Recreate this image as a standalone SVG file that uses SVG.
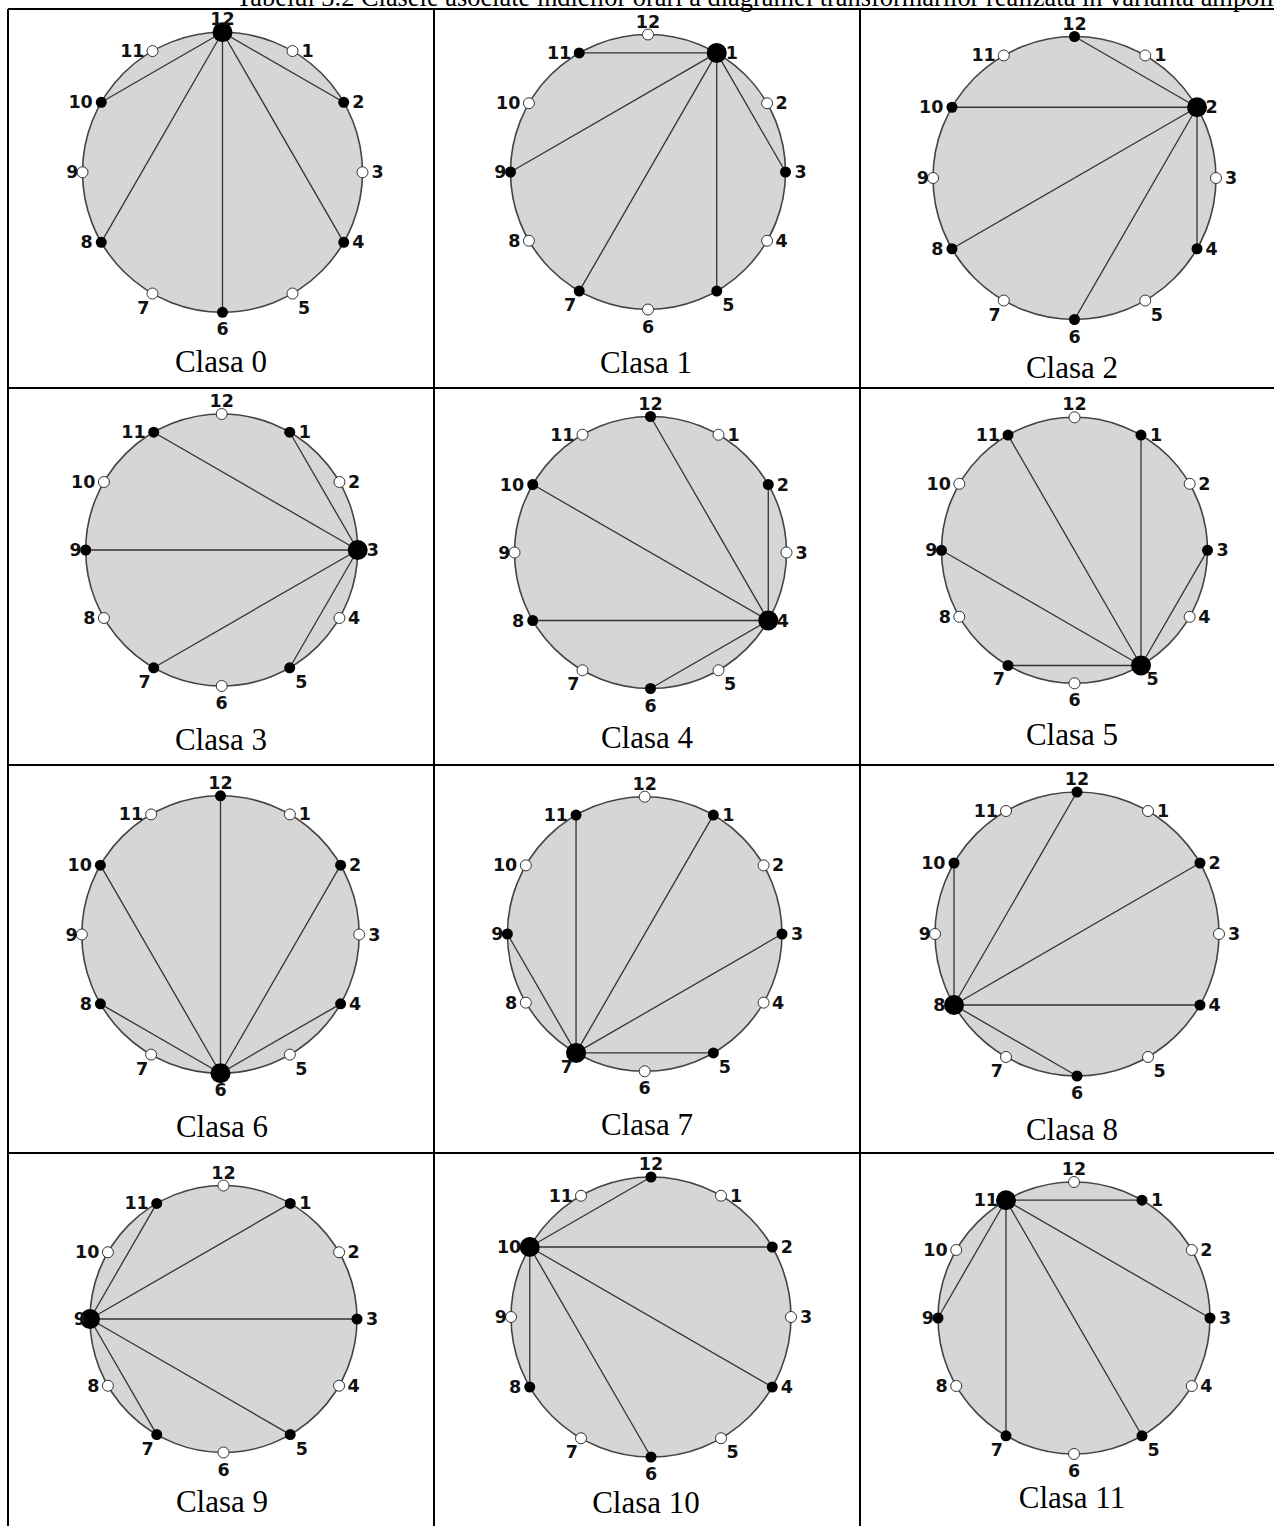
<svg xmlns="http://www.w3.org/2000/svg" width="1274" height="1526" viewBox="0 0 1274 1526">
<style>
.bg{fill:#fff}
.grid{stroke:#000;stroke-width:2;fill:none}
.disc{fill:#d6d6d6;stroke:#444;stroke-width:1.6}
.e line{stroke:#333;stroke-width:1.3}
.b{fill:#000}
.w{fill:#fff;stroke:#333;stroke-width:1}
.h{fill:#000}
text.l{font-family:"DejaVu Sans",Verdana,sans-serif;font-weight:bold;font-size:17.5px;fill:#111}
.p12{text-anchor:middle;transform:translate(0px,-7px)}
.p1{text-anchor:start;transform:translate(9px,6px)}
.p2{text-anchor:start;transform:translate(8.5px,6px)}
.p3{text-anchor:start;transform:translate(9px,6px)}
.p4{text-anchor:start;transform:translate(8.5px,6px)}
.p5{text-anchor:start;transform:translate(5.5px,20px)}
.p6{text-anchor:middle;transform:translate(0px,23px)}
.p7{text-anchor:end;transform:translate(-3px,20px)}
.p8{text-anchor:end;transform:translate(-8.5px,6px)}
.p9{text-anchor:end;transform:translate(-4px,6px)}
.p10{text-anchor:end;transform:translate(-8.5px,6px)}
.p11{text-anchor:end;transform:translate(-8px,6px)}
.cap{font-family:"Liberation Serif","Times New Roman",serif;font-size:31px;text-anchor:middle;fill:#000}
.title{font-family:"Liberation Serif","Times New Roman",serif;font-size:26.4px;fill:#000}
</style>
<rect class="bg" x="0" y="0" width="1274" height="1526"/>
<text class="title" x="236" y="6">Tabelul 3.2 Clasele asociate indicilor orari a diagramei transformarilor realizata in varianta ampolit</text>
<g id="table" class="grid">
<line x1="8" y1="9" x2="1274" y2="9"/>
<line x1="8" y1="388" x2="1274" y2="388"/>
<line x1="8" y1="765" x2="1274" y2="765"/>
<line x1="8" y1="1153" x2="1274" y2="1153"/>
<line x1="8" y1="9" x2="8" y2="1526"/>
<line x1="434" y1="9" x2="434" y2="1526"/>
<line x1="860" y1="9" x2="860" y2="1526"/>
</g>

<g id="clasa0">
<circle class="disc" cx="222.5" cy="172.3" r="140"/>
<g id="clasa0-edges" class="e">
<line x1="222.5" y1="32.3" x2="343.74" y2="102.3"/>
<line x1="222.5" y1="32.3" x2="343.74" y2="242.3"/>
<line x1="222.5" y1="32.3" x2="222.5" y2="312.3"/>
<line x1="222.5" y1="32.3" x2="101.26" y2="242.3"/>
<line x1="222.5" y1="32.3" x2="101.26" y2="102.3"/>
</g>
<g id="c0-n12" transform="translate(222.5,32.3)"><circle class="h" r="10"/><text class="l p12">12</text></g>
<g id="c0-n1" transform="translate(292.5,51.06)"><circle class="w" r="5.5"/><text class="l p1">1</text></g>
<g id="c0-n2" transform="translate(343.74,102.3)"><circle class="b" r="5.5"/><text class="l p2">2</text></g>
<g id="c0-n3" transform="translate(362.5,172.3)"><circle class="w" r="5.5"/><text class="l p3">3</text></g>
<g id="c0-n4" transform="translate(343.74,242.3)"><circle class="b" r="5.5"/><text class="l p4">4</text></g>
<g id="c0-n5" transform="translate(292.5,293.54)"><circle class="w" r="5.5"/><text class="l p5">5</text></g>
<g id="c0-n6" transform="translate(222.5,312.3)"><circle class="b" r="5.5"/><text class="l p6">6</text></g>
<g id="c0-n7" transform="translate(152.5,293.54)"><circle class="w" r="5.5"/><text class="l p7">7</text></g>
<g id="c0-n8" transform="translate(101.26,242.3)"><circle class="b" r="5.5"/><text class="l p8">8</text></g>
<g id="c0-n9" transform="translate(82.5,172.3)"><circle class="w" r="5.5"/><text class="l p9">9</text></g>
<g id="c0-n10" transform="translate(101.26,102.3)"><circle class="b" r="5.5"/><text class="l p10">10</text></g>
<g id="c0-n11" transform="translate(152.5,51.06)"><circle class="w" r="5.5"/><text class="l p11">11</text></g>
<text class="cap" x="221" y="372">Clasa 0</text>
</g>

<g id="clasa1">
<circle class="disc" cx="648" cy="172" r="137.5"/>
<g id="clasa1-edges" class="e">
<line x1="716.75" y1="52.92" x2="579.25" y2="52.92"/>
<line x1="716.75" y1="52.92" x2="510.5" y2="172"/>
<line x1="716.75" y1="52.92" x2="579.25" y2="291.08"/>
<line x1="716.75" y1="52.92" x2="716.75" y2="291.08"/>
<line x1="716.75" y1="52.92" x2="785.5" y2="172"/>
</g>
<g id="c1-n12" transform="translate(648,34.5)"><circle class="w" r="5.5"/><text class="l p12">12</text></g>
<g id="c1-n1" transform="translate(716.75,52.92)"><circle class="h" r="10"/><text class="l p1">1</text></g>
<g id="c1-n2" transform="translate(767.08,103.25)"><circle class="w" r="5.5"/><text class="l p2">2</text></g>
<g id="c1-n3" transform="translate(785.5,172)"><circle class="b" r="5.5"/><text class="l p3">3</text></g>
<g id="c1-n4" transform="translate(767.08,240.75)"><circle class="w" r="5.5"/><text class="l p4">4</text></g>
<g id="c1-n5" transform="translate(716.75,291.08)"><circle class="b" r="5.5"/><text class="l p5">5</text></g>
<g id="c1-n6" transform="translate(648,309.5)"><circle class="w" r="5.5"/><text class="l p6">6</text></g>
<g id="c1-n7" transform="translate(579.25,291.08)"><circle class="b" r="5.5"/><text class="l p7">7</text></g>
<g id="c1-n8" transform="translate(528.92,240.75)"><circle class="w" r="5.5"/><text class="l p8">8</text></g>
<g id="c1-n9" transform="translate(510.5,172)"><circle class="b" r="5.5"/><text class="l p9">9</text></g>
<g id="c1-n10" transform="translate(528.92,103.25)"><circle class="w" r="5.5"/><text class="l p10">10</text></g>
<g id="c1-n11" transform="translate(579.25,52.92)"><circle class="b" r="5.5"/><text class="l p11">11</text></g>
<text class="cap" x="646" y="373">Clasa 1</text>
</g>

<g id="clasa2">
<circle class="disc" cx="1074.5" cy="178" r="141.5"/>
<g id="clasa2-edges" class="e">
<line x1="1197.04" y1="107.25" x2="1074.5" y2="36.5"/>
<line x1="1197.04" y1="107.25" x2="951.96" y2="107.25"/>
<line x1="1197.04" y1="107.25" x2="951.96" y2="248.75"/>
<line x1="1197.04" y1="107.25" x2="1074.5" y2="319.5"/>
<line x1="1197.04" y1="107.25" x2="1197.04" y2="248.75"/>
</g>
<g id="c2-n12" transform="translate(1074.5,36.5)"><circle class="b" r="5.5"/><text class="l p12">12</text></g>
<g id="c2-n1" transform="translate(1145.25,55.46)"><circle class="w" r="5.5"/><text class="l p1">1</text></g>
<g id="c2-n2" transform="translate(1197.04,107.25)"><circle class="h" r="10"/><text class="l p2">2</text></g>
<g id="c2-n3" transform="translate(1216,178)"><circle class="w" r="5.5"/><text class="l p3">3</text></g>
<g id="c2-n4" transform="translate(1197.04,248.75)"><circle class="b" r="5.5"/><text class="l p4">4</text></g>
<g id="c2-n5" transform="translate(1145.25,300.54)"><circle class="w" r="5.5"/><text class="l p5">5</text></g>
<g id="c2-n6" transform="translate(1074.5,319.5)"><circle class="b" r="5.5"/><text class="l p6">6</text></g>
<g id="c2-n7" transform="translate(1003.75,300.54)"><circle class="w" r="5.5"/><text class="l p7">7</text></g>
<g id="c2-n8" transform="translate(951.96,248.75)"><circle class="b" r="5.5"/><text class="l p8">8</text></g>
<g id="c2-n9" transform="translate(933,178)"><circle class="w" r="5.5"/><text class="l p9">9</text></g>
<g id="c2-n10" transform="translate(951.96,107.25)"><circle class="b" r="5.5"/><text class="l p10">10</text></g>
<g id="c2-n11" transform="translate(1003.75,55.46)"><circle class="w" r="5.5"/><text class="l p11">11</text></g>
<text class="cap" x="1072" y="378">Clasa 2</text>
</g>

<g id="clasa3">
<circle class="disc" cx="221.7" cy="550" r="136"/>
<g id="clasa3-edges" class="e">
<line x1="357.7" y1="550" x2="289.7" y2="432.22"/>
<line x1="357.7" y1="550" x2="153.7" y2="432.22"/>
<line x1="357.7" y1="550" x2="85.7" y2="550"/>
<line x1="357.7" y1="550" x2="153.7" y2="667.78"/>
<line x1="357.7" y1="550" x2="289.7" y2="667.78"/>
</g>
<g id="c3-n12" transform="translate(221.7,414)"><circle class="w" r="5.5"/><text class="l p12">12</text></g>
<g id="c3-n1" transform="translate(289.7,432.22)"><circle class="b" r="5.5"/><text class="l p1">1</text></g>
<g id="c3-n2" transform="translate(339.48,482)"><circle class="w" r="5.5"/><text class="l p2">2</text></g>
<g id="c3-n3" transform="translate(357.7,550)"><circle class="h" r="10"/><text class="l p3">3</text></g>
<g id="c3-n4" transform="translate(339.48,618)"><circle class="w" r="5.5"/><text class="l p4">4</text></g>
<g id="c3-n5" transform="translate(289.7,667.78)"><circle class="b" r="5.5"/><text class="l p5">5</text></g>
<g id="c3-n6" transform="translate(221.7,686)"><circle class="w" r="5.5"/><text class="l p6">6</text></g>
<g id="c3-n7" transform="translate(153.7,667.78)"><circle class="b" r="5.5"/><text class="l p7">7</text></g>
<g id="c3-n8" transform="translate(103.92,618)"><circle class="w" r="5.5"/><text class="l p8">8</text></g>
<g id="c3-n9" transform="translate(85.7,550)"><circle class="b" r="5.5"/><text class="l p9">9</text></g>
<g id="c3-n10" transform="translate(103.92,482)"><circle class="w" r="5.5"/><text class="l p10">10</text></g>
<g id="c3-n11" transform="translate(153.7,432.22)"><circle class="b" r="5.5"/><text class="l p11">11</text></g>
<text class="cap" x="221" y="750">Clasa 3</text>
</g>

<g id="clasa4">
<circle class="disc" cx="650.5" cy="552.5" r="136"/>
<g id="clasa4-edges" class="e">
<line x1="768.28" y1="620.5" x2="650.5" y2="416.5"/>
<line x1="768.28" y1="620.5" x2="768.28" y2="484.5"/>
<line x1="768.28" y1="620.5" x2="532.72" y2="484.5"/>
<line x1="768.28" y1="620.5" x2="532.72" y2="620.5"/>
<line x1="768.28" y1="620.5" x2="650.5" y2="688.5"/>
</g>
<g id="c4-n12" transform="translate(650.5,416.5)"><circle class="b" r="5.5"/><text class="l p12">12</text></g>
<g id="c4-n1" transform="translate(718.5,434.72)"><circle class="w" r="5.5"/><text class="l p1">1</text></g>
<g id="c4-n2" transform="translate(768.28,484.5)"><circle class="b" r="5.5"/><text class="l p2">2</text></g>
<g id="c4-n3" transform="translate(786.5,552.5)"><circle class="w" r="5.5"/><text class="l p3">3</text></g>
<g id="c4-n4" transform="translate(768.28,620.5)"><circle class="h" r="10"/><text class="l p4">4</text></g>
<g id="c4-n5" transform="translate(718.5,670.28)"><circle class="w" r="5.5"/><text class="l p5">5</text></g>
<g id="c4-n6" transform="translate(650.5,688.5)"><circle class="b" r="5.5"/><text class="l p6">6</text></g>
<g id="c4-n7" transform="translate(582.5,670.28)"><circle class="w" r="5.5"/><text class="l p7">7</text></g>
<g id="c4-n8" transform="translate(532.72,620.5)"><circle class="b" r="5.5"/><text class="l p8">8</text></g>
<g id="c4-n9" transform="translate(514.5,552.5)"><circle class="w" r="5.5"/><text class="l p9">9</text></g>
<g id="c4-n10" transform="translate(532.72,484.5)"><circle class="b" r="5.5"/><text class="l p10">10</text></g>
<g id="c4-n11" transform="translate(582.5,434.72)"><circle class="w" r="5.5"/><text class="l p11">11</text></g>
<text class="cap" x="647" y="748">Clasa 4</text>
</g>

<g id="clasa5">
<circle class="disc" cx="1074.5" cy="550.3" r="133"/>
<g id="clasa5-edges" class="e">
<line x1="1141" y1="665.48" x2="1141" y2="435.12"/>
<line x1="1141" y1="665.48" x2="1207.5" y2="550.3"/>
<line x1="1141" y1="665.48" x2="1008" y2="435.12"/>
<line x1="1141" y1="665.48" x2="941.5" y2="550.3"/>
<line x1="1141" y1="665.48" x2="1008" y2="665.48"/>
</g>
<g id="c5-n12" transform="translate(1074.5,417.3)"><circle class="w" r="5.5"/><text class="l p12">12</text></g>
<g id="c5-n1" transform="translate(1141,435.12)"><circle class="b" r="5.5"/><text class="l p1">1</text></g>
<g id="c5-n2" transform="translate(1189.68,483.8)"><circle class="w" r="5.5"/><text class="l p2">2</text></g>
<g id="c5-n3" transform="translate(1207.5,550.3)"><circle class="b" r="5.5"/><text class="l p3">3</text></g>
<g id="c5-n4" transform="translate(1189.68,616.8)"><circle class="w" r="5.5"/><text class="l p4">4</text></g>
<g id="c5-n5" transform="translate(1141,665.48)"><circle class="h" r="10"/><text class="l p5">5</text></g>
<g id="c5-n6" transform="translate(1074.5,683.3)"><circle class="w" r="5.5"/><text class="l p6">6</text></g>
<g id="c5-n7" transform="translate(1008,665.48)"><circle class="b" r="5.5"/><text class="l p7">7</text></g>
<g id="c5-n8" transform="translate(959.32,616.8)"><circle class="w" r="5.5"/><text class="l p8">8</text></g>
<g id="c5-n9" transform="translate(941.5,550.3)"><circle class="b" r="5.5"/><text class="l p9">9</text></g>
<g id="c5-n10" transform="translate(959.32,483.8)"><circle class="w" r="5.5"/><text class="l p10">10</text></g>
<g id="c5-n11" transform="translate(1008,435.12)"><circle class="b" r="5.5"/><text class="l p11">11</text></g>
<text class="cap" x="1072" y="745">Clasa 5</text>
</g>

<g id="clasa6">
<circle class="disc" cx="220.5" cy="934.5" r="138.7"/>
<g id="clasa6-edges" class="e">
<line x1="220.5" y1="1073.2" x2="220.5" y2="795.8"/>
<line x1="220.5" y1="1073.2" x2="100.38" y2="865.15"/>
<line x1="220.5" y1="1073.2" x2="100.38" y2="1003.85"/>
<line x1="220.5" y1="1073.2" x2="340.62" y2="865.15"/>
<line x1="220.5" y1="1073.2" x2="340.62" y2="1003.85"/>
</g>
<g id="c6-n12" transform="translate(220.5,795.8)"><circle class="b" r="5.5"/><text class="l p12">12</text></g>
<g id="c6-n1" transform="translate(289.85,814.38)"><circle class="w" r="5.5"/><text class="l p1">1</text></g>
<g id="c6-n2" transform="translate(340.62,865.15)"><circle class="b" r="5.5"/><text class="l p2">2</text></g>
<g id="c6-n3" transform="translate(359.2,934.5)"><circle class="w" r="5.5"/><text class="l p3">3</text></g>
<g id="c6-n4" transform="translate(340.62,1003.85)"><circle class="b" r="5.5"/><text class="l p4">4</text></g>
<g id="c6-n5" transform="translate(289.85,1054.62)"><circle class="w" r="5.5"/><text class="l p5">5</text></g>
<g id="c6-n6" transform="translate(220.5,1073.2)"><circle class="h" r="10"/><text class="l p6">6</text></g>
<g id="c6-n7" transform="translate(151.15,1054.62)"><circle class="w" r="5.5"/><text class="l p7">7</text></g>
<g id="c6-n8" transform="translate(100.38,1003.85)"><circle class="b" r="5.5"/><text class="l p8">8</text></g>
<g id="c6-n9" transform="translate(81.8,934.5)"><circle class="w" r="5.5"/><text class="l p9">9</text></g>
<g id="c6-n10" transform="translate(100.38,865.15)"><circle class="b" r="5.5"/><text class="l p10">10</text></g>
<g id="c6-n11" transform="translate(151.15,814.38)"><circle class="w" r="5.5"/><text class="l p11">11</text></g>
<text class="cap" x="222" y="1137">Clasa 6</text>
</g>

<g id="clasa7">
<circle class="disc" cx="644.7" cy="934" r="137.3"/>
<g id="clasa7-edges" class="e">
<line x1="576.05" y1="1052.9" x2="576.05" y2="815.1"/>
<line x1="576.05" y1="1052.9" x2="507.4" y2="934"/>
<line x1="576.05" y1="1052.9" x2="713.35" y2="815.1"/>
<line x1="576.05" y1="1052.9" x2="782" y2="934"/>
<line x1="576.05" y1="1052.9" x2="713.35" y2="1052.9"/>
</g>
<g id="c7-n12" transform="translate(644.7,796.7)"><circle class="w" r="5.5"/><text class="l p12">12</text></g>
<g id="c7-n1" transform="translate(713.35,815.1)"><circle class="b" r="5.5"/><text class="l p1">1</text></g>
<g id="c7-n2" transform="translate(763.6,865.35)"><circle class="w" r="5.5"/><text class="l p2">2</text></g>
<g id="c7-n3" transform="translate(782,934)"><circle class="b" r="5.5"/><text class="l p3">3</text></g>
<g id="c7-n4" transform="translate(763.6,1002.65)"><circle class="w" r="5.5"/><text class="l p4">4</text></g>
<g id="c7-n5" transform="translate(713.35,1052.9)"><circle class="b" r="5.5"/><text class="l p5">5</text></g>
<g id="c7-n6" transform="translate(644.7,1071.3)"><circle class="w" r="5.5"/><text class="l p6">6</text></g>
<g id="c7-n7" transform="translate(576.05,1052.9)"><circle class="h" r="10"/><text class="l p7">7</text></g>
<g id="c7-n8" transform="translate(525.8,1002.65)"><circle class="w" r="5.5"/><text class="l p8">8</text></g>
<g id="c7-n9" transform="translate(507.4,934)"><circle class="b" r="5.5"/><text class="l p9">9</text></g>
<g id="c7-n10" transform="translate(525.8,865.35)"><circle class="w" r="5.5"/><text class="l p10">10</text></g>
<g id="c7-n11" transform="translate(576.05,815.1)"><circle class="b" r="5.5"/><text class="l p11">11</text></g>
<text class="cap" x="647" y="1135">Clasa 7</text>
</g>

<g id="clasa8">
<circle class="disc" cx="1077" cy="934" r="142"/>
<g id="clasa8-edges" class="e">
<line x1="954.03" y1="1005" x2="954.03" y2="863"/>
<line x1="954.03" y1="1005" x2="1077" y2="792"/>
<line x1="954.03" y1="1005" x2="1199.97" y2="863"/>
<line x1="954.03" y1="1005" x2="1199.97" y2="1005"/>
<line x1="954.03" y1="1005" x2="1077" y2="1076"/>
</g>
<g id="c8-n12" transform="translate(1077,792)"><circle class="b" r="5.5"/><text class="l p12">12</text></g>
<g id="c8-n1" transform="translate(1148,811.03)"><circle class="w" r="5.5"/><text class="l p1">1</text></g>
<g id="c8-n2" transform="translate(1199.97,863)"><circle class="b" r="5.5"/><text class="l p2">2</text></g>
<g id="c8-n3" transform="translate(1219,934)"><circle class="w" r="5.5"/><text class="l p3">3</text></g>
<g id="c8-n4" transform="translate(1199.97,1005)"><circle class="b" r="5.5"/><text class="l p4">4</text></g>
<g id="c8-n5" transform="translate(1148,1056.97)"><circle class="w" r="5.5"/><text class="l p5">5</text></g>
<g id="c8-n6" transform="translate(1077,1076)"><circle class="b" r="5.5"/><text class="l p6">6</text></g>
<g id="c8-n7" transform="translate(1006,1056.97)"><circle class="w" r="5.5"/><text class="l p7">7</text></g>
<g id="c8-n8" transform="translate(954.03,1005)"><circle class="h" r="10"/><text class="l p8">8</text></g>
<g id="c8-n9" transform="translate(935,934)"><circle class="w" r="5.5"/><text class="l p9">9</text></g>
<g id="c8-n10" transform="translate(954.03,863)"><circle class="b" r="5.5"/><text class="l p10">10</text></g>
<g id="c8-n11" transform="translate(1006,811.03)"><circle class="w" r="5.5"/><text class="l p11">11</text></g>
<text class="cap" x="1072" y="1140">Clasa 8</text>
</g>

<g id="clasa9">
<circle class="disc" cx="223.5" cy="1319" r="133.5"/>
<g id="clasa9-edges" class="e">
<line x1="90" y1="1319" x2="156.75" y2="1203.39"/>
<line x1="90" y1="1319" x2="290.25" y2="1203.39"/>
<line x1="90" y1="1319" x2="357" y2="1319"/>
<line x1="90" y1="1319" x2="290.25" y2="1434.61"/>
<line x1="90" y1="1319" x2="156.75" y2="1434.61"/>
</g>
<g id="c9-n12" transform="translate(223.5,1185.5)"><circle class="w" r="5.5"/><text class="l p12">12</text></g>
<g id="c9-n1" transform="translate(290.25,1203.39)"><circle class="b" r="5.5"/><text class="l p1">1</text></g>
<g id="c9-n2" transform="translate(339.11,1252.25)"><circle class="w" r="5.5"/><text class="l p2">2</text></g>
<g id="c9-n3" transform="translate(357,1319)"><circle class="b" r="5.5"/><text class="l p3">3</text></g>
<g id="c9-n4" transform="translate(339.11,1385.75)"><circle class="w" r="5.5"/><text class="l p4">4</text></g>
<g id="c9-n5" transform="translate(290.25,1434.61)"><circle class="b" r="5.5"/><text class="l p5">5</text></g>
<g id="c9-n6" transform="translate(223.5,1452.5)"><circle class="w" r="5.5"/><text class="l p6">6</text></g>
<g id="c9-n7" transform="translate(156.75,1434.61)"><circle class="b" r="5.5"/><text class="l p7">7</text></g>
<g id="c9-n8" transform="translate(107.89,1385.75)"><circle class="w" r="5.5"/><text class="l p8">8</text></g>
<g id="c9-n9" transform="translate(90,1319)"><circle class="h" r="10"/><text class="l p9">9</text></g>
<g id="c9-n10" transform="translate(107.89,1252.25)"><circle class="w" r="5.5"/><text class="l p10">10</text></g>
<g id="c9-n11" transform="translate(156.75,1203.39)"><circle class="b" r="5.5"/><text class="l p11">11</text></g>
<text class="cap" x="222" y="1512">Clasa 9</text>
</g>

<g id="clasa10">
<circle class="disc" cx="651" cy="1317" r="140"/>
<g id="clasa10-edges" class="e">
<line x1="529.76" y1="1247" x2="651" y2="1177"/>
<line x1="529.76" y1="1247" x2="772.24" y2="1247"/>
<line x1="529.76" y1="1247" x2="772.24" y2="1387"/>
<line x1="529.76" y1="1247" x2="651" y2="1457"/>
<line x1="529.76" y1="1247" x2="529.76" y2="1387"/>
</g>
<g id="c10-n12" transform="translate(651,1177)"><circle class="b" r="5.5"/><text class="l p12">12</text></g>
<g id="c10-n1" transform="translate(721,1195.76)"><circle class="w" r="5.5"/><text class="l p1">1</text></g>
<g id="c10-n2" transform="translate(772.24,1247)"><circle class="b" r="5.5"/><text class="l p2">2</text></g>
<g id="c10-n3" transform="translate(791,1317)"><circle class="w" r="5.5"/><text class="l p3">3</text></g>
<g id="c10-n4" transform="translate(772.24,1387)"><circle class="b" r="5.5"/><text class="l p4">4</text></g>
<g id="c10-n5" transform="translate(721,1438.24)"><circle class="w" r="5.5"/><text class="l p5">5</text></g>
<g id="c10-n6" transform="translate(651,1457)"><circle class="b" r="5.5"/><text class="l p6">6</text></g>
<g id="c10-n7" transform="translate(581,1438.24)"><circle class="w" r="5.5"/><text class="l p7">7</text></g>
<g id="c10-n8" transform="translate(529.76,1387)"><circle class="b" r="5.5"/><text class="l p8">8</text></g>
<g id="c10-n9" transform="translate(511,1317)"><circle class="w" r="5.5"/><text class="l p9">9</text></g>
<g id="c10-n10" transform="translate(529.76,1247)"><circle class="h" r="10"/><text class="l p10">10</text></g>
<g id="c10-n11" transform="translate(581,1195.76)"><circle class="w" r="5.5"/><text class="l p11">11</text></g>
<text class="cap" x="646" y="1513">Clasa 10</text>
</g>

<g id="clasa11">
<circle class="disc" cx="1074" cy="1318" r="136"/>
<g id="clasa11-edges" class="e">
<line x1="1006" y1="1200.22" x2="1142" y2="1200.22"/>
<line x1="1006" y1="1200.22" x2="1210" y2="1318"/>
<line x1="1006" y1="1200.22" x2="1142" y2="1435.78"/>
<line x1="1006" y1="1200.22" x2="1006" y2="1435.78"/>
<line x1="1006" y1="1200.22" x2="938" y2="1318"/>
</g>
<g id="c11-n12" transform="translate(1074,1182)"><circle class="w" r="5.5"/><text class="l p12">12</text></g>
<g id="c11-n1" transform="translate(1142,1200.22)"><circle class="b" r="5.5"/><text class="l p1">1</text></g>
<g id="c11-n2" transform="translate(1191.78,1250)"><circle class="w" r="5.5"/><text class="l p2">2</text></g>
<g id="c11-n3" transform="translate(1210,1318)"><circle class="b" r="5.5"/><text class="l p3">3</text></g>
<g id="c11-n4" transform="translate(1191.78,1386)"><circle class="w" r="5.5"/><text class="l p4">4</text></g>
<g id="c11-n5" transform="translate(1142,1435.78)"><circle class="b" r="5.5"/><text class="l p5">5</text></g>
<g id="c11-n6" transform="translate(1074,1454)"><circle class="w" r="5.5"/><text class="l p6">6</text></g>
<g id="c11-n7" transform="translate(1006,1435.78)"><circle class="b" r="5.5"/><text class="l p7">7</text></g>
<g id="c11-n8" transform="translate(956.22,1386)"><circle class="w" r="5.5"/><text class="l p8">8</text></g>
<g id="c11-n9" transform="translate(938,1318)"><circle class="b" r="5.5"/><text class="l p9">9</text></g>
<g id="c11-n10" transform="translate(956.22,1250)"><circle class="w" r="5.5"/><text class="l p10">10</text></g>
<g id="c11-n11" transform="translate(1006,1200.22)"><circle class="h" r="10"/><text class="l p11">11</text></g>
<text class="cap" x="1072" y="1508">Clasa 11</text>
</g>
</svg>
